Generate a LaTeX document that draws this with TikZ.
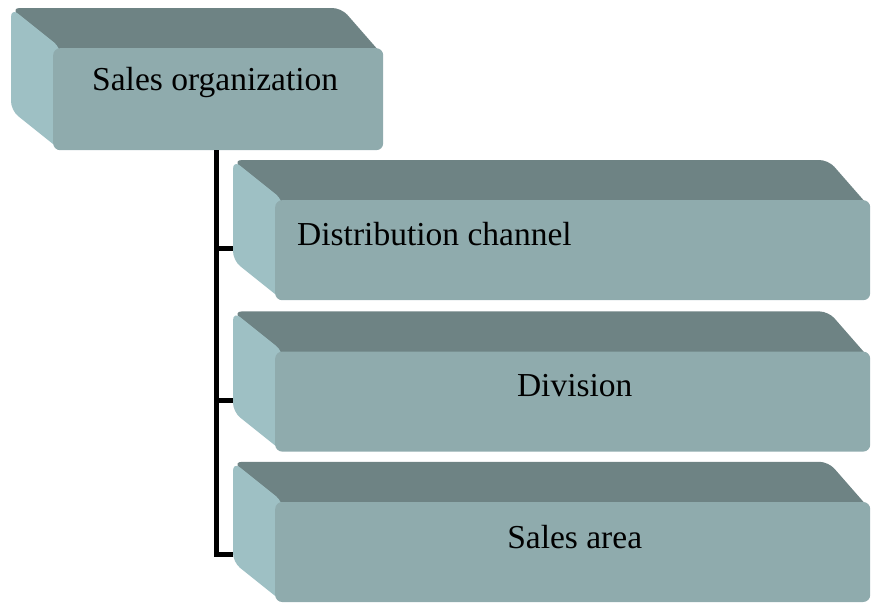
\documentclass[tikz,border=0pt]{standalone}
\usepackage{fontspec}
\setmainfont{Liberation Serif}
\usetikzlibrary{positioning,calc,backgrounds}
\definecolor{slabfront}{HTML}{8FABAD}
\definecolor{slabtop}{HTML}{6E8384}
\definecolor{slabside}{HTML}{9EC0C4}

\tikzset{
  slab/.style={fill=slabfront, rounded corners=7pt, inner sep=0pt},
  slabtxt/.style={font=\fontsize{33.5}{40}\selectfont, inner sep=0pt},
  tree/.style={line width=5pt, black},
}
% top and left face of a slab, behind its front node
\newcommand{\slabsides}[1]{%
  \begin{scope}[on background layer]
    \fill[slabtop, rounded corners=9pt] ($(#1.north west)+(-42,-40)$) -- ($(#1.north east)+(-42,-40)$)
      -- ($(#1.north east)+(0,8)$) -- ($(#1.north west)+(8,8)$) -- cycle;
    \fill[slabside, rounded corners=9pt] ($(#1.north west)+(-42,-40)$) -- ($(#1.north west)+(8,0)$)
      -- ($(#1.south west)+(8,0)$) -- ($(#1.south west)+(-42,-40)$) -- cycle;
  \end{scope}%
}

\begin{document}
\begin{tikzpicture}[x=1pt, y=-1pt]
    \useasboundingbox (0,0) rectangle (871,603);
    \node (so) [slab, anchor=north west, minimum width=330pt, minimum height=102pt] at (53,48) {};
    \node (dc) [slab, anchor=north west, minimum width=595pt, minimum height=100pt] at (275,200) {};
    \node (dv) [slab, minimum width=595pt, minimum height=100pt, below=51pt of dc] {};
    \node (sa) [slab, minimum width=595pt, minimum height=100pt, below=50pt of dv] {};
    \slabsides{so}
    \slabsides{dc}
    \slabsides{dv}
    \slabsides{sa}
    \node (so-txt) [slabtxt, anchor=base] at ($(so.north)+(-3,42)$) {Sales organization};
    \node (dc-txt) [slabtxt, anchor=base west] at ($(dc.north west)+(22,45)$) {Distribution channel};
    \node (dv-txt) [slabtxt, anchor=base] at ($(dv.north)+(2,45)$) {Division};
    \node (sa-txt) [slabtxt, anchor=base] at ($(sa.north)+(2,47)$) {Sales area};
    \coordinate (dc-in) at ($(dc.west)+(-42,-2)$);
    \coordinate (dv-in) at ($(dv.west)+(-42,-1)$);
    \coordinate (sa-in) at ($(sa.west)+(-42,2)$);
    \coordinate (trunk) at ($(so.south)+(-2,0)$);
    \draw[tree] (trunk) |- (dc-in);
    \draw[tree] (trunk) |- (dv-in);
    \draw[tree] (trunk) |- (sa-in);
  \end{tikzpicture}
\end{document}
